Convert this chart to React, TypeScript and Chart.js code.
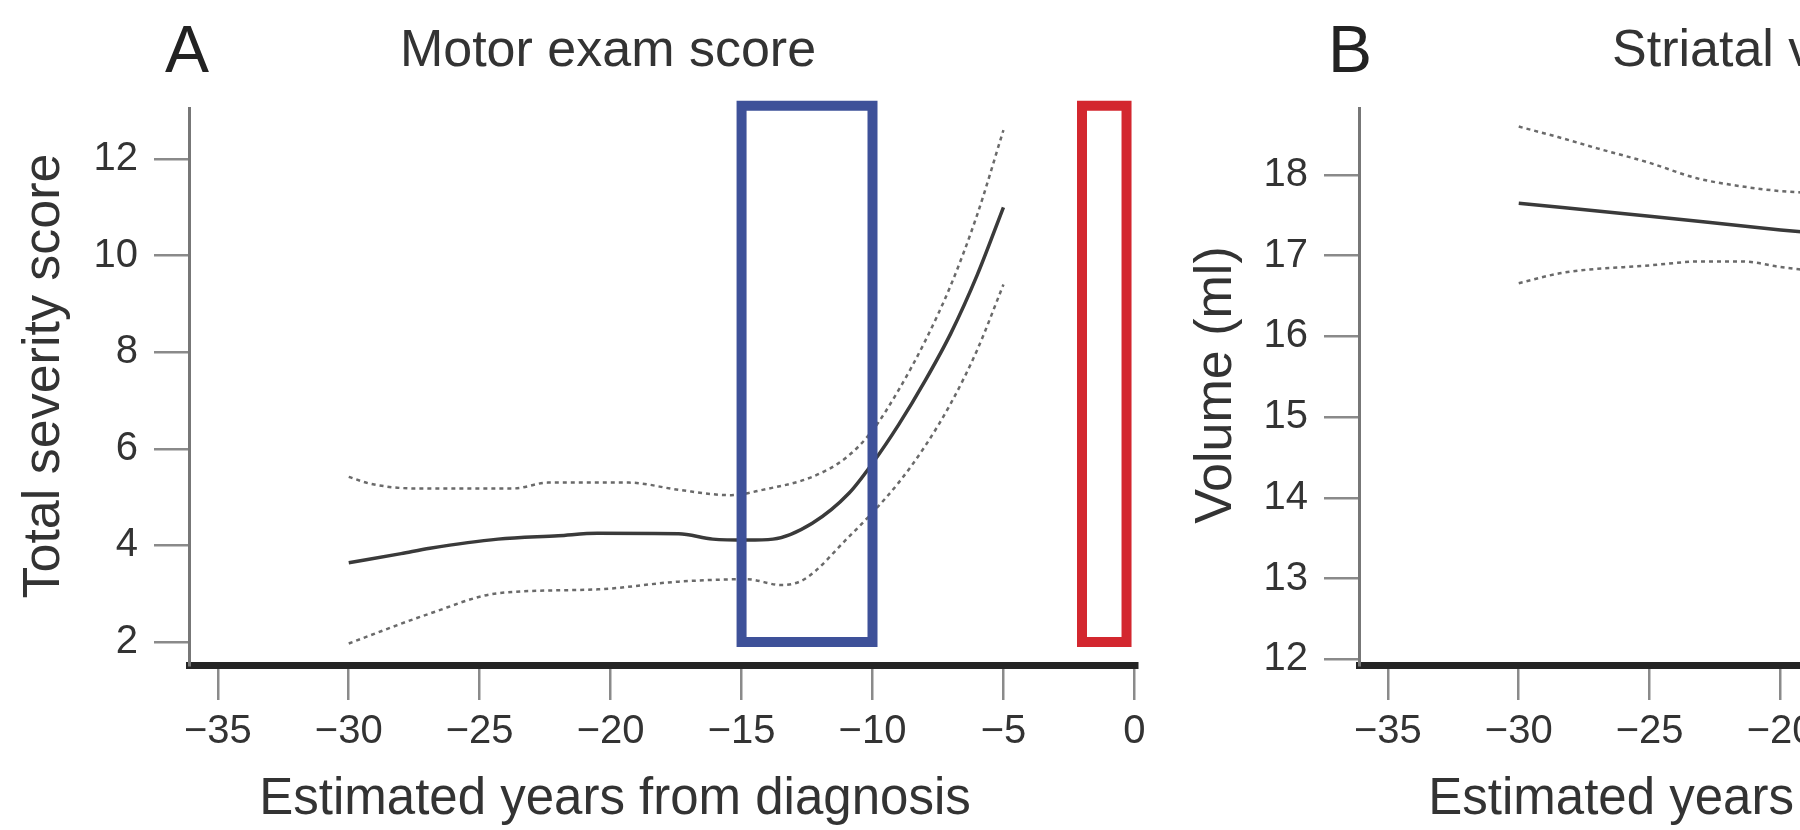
import React, { useEffect, useRef } from "react";
import { Chart, registerables } from "chart.js";

Chart.register(...registerables);

// ---- Panel A: motor exam score (fitted curve with confidence band) ----
const motorFitYears = [-30, -28, -26.9, -24.3, -22, -20.5, -17.4, -16.1, -14.8, -13.8, -12.3, -10.9, -10, -9, -8, -7, -6, -5];
const motorFit = [3.64, 3.83, 3.94, 4.13, 4.2, 4.25, 4.24, 4.13, 4.11, 4.13, 4.46, 5.08, 5.7, 6.5, 7.4, 8.4, 9.6, 11.0];

const motorUpperYears = [-30, -29.2, -27.5, -23.7, -22.4, -19.3, -17.4, -15.4, -14.2, -12.3, -11, -10, -9, -8, -7, -6, -5];
const motorUpper = [5.42, 5.28, 5.18, 5.18, 5.3, 5.3, 5.15, 5.04, 5.15, 5.42, 5.82, 6.38, 7.22, 8.22, 9.4, 10.85, 12.6];

const motorLowerYears = [-30, -26.9, -24.3, -20.5, -17.4, -14.8, -13.5, -12.6, -10.9, -10, -9, -8, -7, -6, -5];
const motorLower = [1.97, 2.59, 3.01, 3.09, 3.25, 3.3, 3.18, 3.3, 4.18, 4.68, 5.3, 6.05, 6.95, 8.05, 9.4];

// Highlighted windows on panel A: [start year, end year] and score span
const blueWindowYears = [-15, -10];
const redWindowYears = [-2, -0.3];
const windowScoreSpan = [2.0, 13.1];

// ---- Panel B: striatal volume ----
const striatalFitYears = [-30, -25, -20, -19];
const striatalFit = [17.65, 17.49, 17.32, 17.29];

const striatalUpperYears = [-30, -28.5, -27, -25, -23.2, -21.5, -20, -19];
const striatalUpper = [18.6, 18.47, 18.33, 18.15, 17.96, 17.86, 17.8, 17.78];

const striatalLowerYears = [-30, -28.3, -25, -23, -21.5, -20, -19];
const striatalLower = [16.66, 16.79, 16.88, 16.93, 16.93, 16.86, 16.82];

// ---- Axis ticks ----
const yearTicks = [-35, -30, -25, -20, -15, -10, -5, 0];
const motorTicks = [2, 4, 6, 8, 10, 12];
const volumeTicks = [12, 13, 14, 15, 16, 17, 18];

const FONT = "'Liberation Sans', Arial, Helvetica, sans-serif";

const toPoints = (xs: number[], ys: number[]) => xs.map((x, i) => ({ x, y: ys[i] }));
const rectPoints = (xr: number[], yr: number[]) => [
  { x: xr[0], y: yr[0] },
  { x: xr[0], y: yr[1] },
  { x: xr[1], y: yr[1] },
  { x: xr[1], y: yr[0] },
  { x: xr[0], y: yr[0] },
];

const fmt = (v: number | string) => String(v).replace("-", "\u2212");

const fitStyle = {
  borderColor: "#3a3a3a",
  borderWidth: 3.5,
  pointRadius: 0,
  cubicInterpolationMode: "monotone" as const,
  fill: false,
};
const bandStyle = {
  borderColor: "#6a6a6a",
  borderWidth: 2.5,
  borderDash: [4, 4],
  pointRadius: 0,
  cubicInterpolationMode: "monotone" as const,
  fill: false,
};
const windowStyle = (color: string) => ({
  borderColor: color,
  borderWidth: 10,
  pointRadius: 0,
  tension: 0,
  borderCapStyle: "square" as const,
  borderJoinStyle: "miter" as const,
  fill: false,
  clip: false as const,
});

type TextItem = {
  text: string;
  x: number;
  y: number;
  size: number;
  color?: string;
  align?: CanvasTextAlign;
  rotate?: boolean;
};

const textPlugin = (items: TextItem[]) => ({
  id: "panelText",
  afterDraw(chart: Chart) {
    const ctx = chart.ctx;
    for (const t of items) {
      ctx.save();
      ctx.font = `${t.size}px ${FONT}`;
      ctx.fillStyle = t.color || "#333";
      ctx.textAlign = t.align || "center";
      ctx.textBaseline = "middle";
      ctx.translate(t.x, t.y);
      if (t.rotate) ctx.rotate(-Math.PI / 2);
      ctx.fillText(t.text, 0, 0);
      ctx.restore();
    }
  },
});

type PanelCfg = {
  axisLeft: number;
  padRight: number;
  yMin: number;
  yMax: number;
  yTicks: number[];
};

function panelOptions(cfg: PanelCfg) {
  const tickFont = { family: FONT, size: 40 };
  return {
    responsive: false,
    animation: false as const,
    devicePixelRatio: 1,
    events: [],
    layout: { padding: { left: 0, right: cfg.padRight, top: 108, bottom: 0 } },
    plugins: {
      legend: { display: false },
      tooltip: { enabled: false },
      title: { display: false },
    },
    scales: {
      x: {
        type: "linear" as const,
        min: -36.1,
        max: 0.1,
        afterBuildTicks: (s: any) => {
          s.ticks = yearTicks.map((v) => ({ value: v }));
        },
        afterFit: (s: any) => {
          s.height = 165;
        },
        grid: {
          drawOnChartArea: false,
          drawTicks: true,
          tickLength: 35,
          color: "#8a8a8a",
          lineWidth: 2.5,
          tickWidth: 2.5,
          tickColor: "#8a8a8a",
        },
        border: { display: true, color: "#242424", width: 7 },
        ticks: {
          autoSkip: false,
          maxRotation: 0,
          padding: 8,
          color: "#333",
          font: tickFont,
          callback: (v: number | string) => fmt(v),
        },
      },
      y: {
        type: "linear" as const,
        min: cfg.yMin,
        max: cfg.yMax,
        afterBuildTicks: (s: any) => {
          s.ticks = cfg.yTicks.map((v) => ({ value: v }));
        },
        afterFit: (s: any) => {
          s.width = cfg.axisLeft;
        },
        grid: {
          drawOnChartArea: false,
          drawTicks: true,
          tickLength: 35,
          color: "#8a8a8a",
          lineWidth: 2.5,
          tickWidth: 2.5,
          tickColor: "#8a8a8a",
        },
        border: { display: true, color: "#777", width: 3 },
        ticks: {
          autoSkip: false,
          padding: 16,
          color: "#333",
          font: tickFont,
          callback: (v: number | string) => fmt(v),
        },
      },
    },
  };
}

function MotorPanel() {
  const ref = useRef<HTMLCanvasElement | null>(null);
  useEffect(() => {
    if (!ref.current) return;
    const chart = new Chart(ref.current, {
      type: "line",
      data: {
        datasets: [
          { ...windowStyle("#3e5199"), data: rectPoints(blueWindowYears, windowScoreSpan) },
          { ...windowStyle("#d3272f"), data: rectPoints(redWindowYears, windowScoreSpan) },
          { ...bandStyle, data: toPoints(motorUpperYears, motorUpper) },
          { ...bandStyle, data: toPoints(motorLowerYears, motorLower) },
          { ...fitStyle, data: toPoints(motorFitYears, motorFit) },
        ],
      },
      options: panelOptions({ axisLeft: 189, padRight: 23, yMin: 1.524, yMax: 13.056, yTicks: motorTicks }) as any,
      plugins: [
        textPlugin([
          { text: "A", x: 187, y: 54, size: 66, color: "#222" },
          { text: "Motor exam score", x: 608, y: 52, size: 52 },
          { text: "Total severity score", x: 45, y: 376, size: 52, rotate: true },
          { text: "Estimated years from diagnosis", x: 615, y: 800, size: 51 },
        ]),
      ],
    });
    return () => chart.destroy();
  }, []);
  return (
    <canvas
      ref={ref}
      width={1160}
      height={830}
      style={{ position: "absolute", left: 0, top: 0, width: 1160, height: 830 }}
    />
  );
}

function StriatalPanel() {
  const ref = useRef<HTMLCanvasElement | null>(null);
  useEffect(() => {
    if (!ref.current) return;
    const chart = new Chart(ref.current, {
      type: "line",
      data: {
        datasets: [
          { ...bandStyle, data: toPoints(striatalUpperYears, striatalUpper) },
          { ...bandStyle, data: toPoints(striatalLowerYears, striatalLower) },
          { ...fitStyle, data: toPoints(striatalFitYears, striatalFit) },
        ],
      },
      options: panelOptions({ axisLeft: 209, padRight: 60, yMin: 11.93, yMax: 18.83, yTicks: volumeTicks }) as any,
      plugins: [
        textPlugin([
          { text: "B", x: 200, y: 54, size: 66, color: "#222" },
          { text: "Striatal volume", x: 634, y: 52, size: 52 },
          { text: "Volume (ml)", x: 67, y: 385, size: 52, rotate: true },
          { text: "Estimated years from diagnosis", x: 634, y: 800, size: 51 },
        ]),
      ],
    });
    return () => chart.destroy();
  }, []);
  return (
    <canvas
      ref={ref}
      width={1217}
      height={830}
      style={{ position: "absolute", left: 1150, top: 0, width: 1217, height: 830 }}
    />
  );
}

export default function App() {
  return (
    <div
      style={{
        position: "absolute",
        left: 0,
        top: 0,
        width: 1800,
        height: 830,
        overflow: "hidden",
        background: "#fff",
      }}
    >
      <MotorPanel />
      <StriatalPanel />
    </div>
  );
}
